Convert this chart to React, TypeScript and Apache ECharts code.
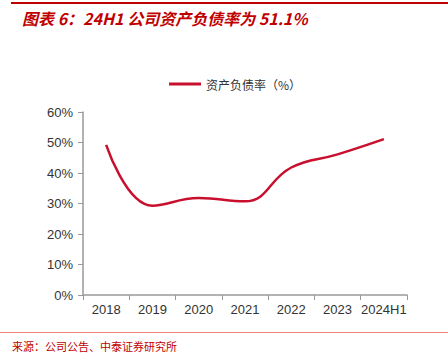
import React, { useEffect, useRef } from "react";
import * as echarts from "echarts";

const categories = ["2018", "2019", "2020", "2021", "2022", "2023", "2024H1"];
const debtRatio = [49.2, 29.3, 31.8, 30.7, 41.8, 46.1, 51.1];
const yTicks = [0, 10, 20, 30, 40, 50, 60];
const seriesName = "资产负债率（%）";
const titleText = "图表 6：24H1 公司资产负债率为 51.1%";
const sourceText = "来源：公司公告、中泰证券研究所";

export default function App() {
  const ref = useRef<HTMLDivElement>(null);
  useEffect(() => {
    const chart = echarts.init(ref.current!, null, { renderer: "svg" });
    chart.setOption({
      animation: false,
      backgroundColor: "#fff",
      graphic: [
        { type: "rect", shape: { x: 11, y: 2, width: 437, height: 2 }, style: { fill: "#c00000" } },
        {
          type: "text",
          x: 22,
          y: 18,
          style: {
            text: titleText,
            fill: "#c00000",
            font: "italic bold 16px 'Noto Sans CJK SC', 'Liberation Sans', sans-serif",
            verticalAlign: "middle",
          },
        },
        { type: "rect", shape: { x: 0, y: 332, width: 448, height: 1 }, style: { fill: "#f08080" } },
        {
          type: "text",
          x: 12,
          y: 346,
          style: {
            text: sourceText,
            fill: "#c00000",
            font: "11px 'Noto Sans CJK SC', sans-serif",
            verticalAlign: "middle",
          },
        },
      ],
      legend: {
        top: 73,
        left: 164,
        itemWidth: 32,
        itemHeight: 3,
        icon: "rect",
        itemGap: 6,
        textStyle: { color: "#333", fontSize: 12, fontFamily: "'Noto Sans CJK SC', sans-serif" },
        data: [seriesName],
      },
      grid: { left: 83, right: 41, top: 112, bottom: 64, containLabel: false },
      xAxis: {
        type: "category",
        data: categories,
        boundaryGap: true,
        axisLine: { lineStyle: { color: "#999", width: 1.5 } },
        axisTick: { show: true, alignWithLabel: false, interval: 0, length: 5, lineStyle: { color: "#999" } },
        axisLabel: { interval: 0, color: "#333", fontSize: 13, fontFamily: "'Liberation Sans', Arial, sans-serif", margin: 8 },
      },
      yAxis: {
        type: "value",
        min: 0,
        max: 60,
        interval: 10,
        axisLine: { show: true, lineStyle: { color: "#999", width: 1.5 } },
        axisTick: { show: true, length: 5, lineStyle: { color: "#999" } },
        splitLine: { show: false },
        axisLabel: {
          color: "#333",
          fontSize: 13,
          fontFamily: "'Liberation Sans', Arial, sans-serif",
          margin: 10,
          formatter: (v: number) => (yTicks.includes(v) ? `${v}%` : ""),
        },
      },
      series: [
        {
          name: seriesName,
          type: "line",
          data: debtRatio,
          smooth: 0.45,
          showSymbol: false,
          symbol: "none",
          lineStyle: { color: "#c8102e", width: 2.5 },
          itemStyle: { color: "#c8102e" },
        },
      ],
    });
    return () => chart.dispose();
  }, []);
  return <div ref={ref} style={{ width: 448, height: 359, position: "absolute", left: 0, top: 0 }} />;
}
